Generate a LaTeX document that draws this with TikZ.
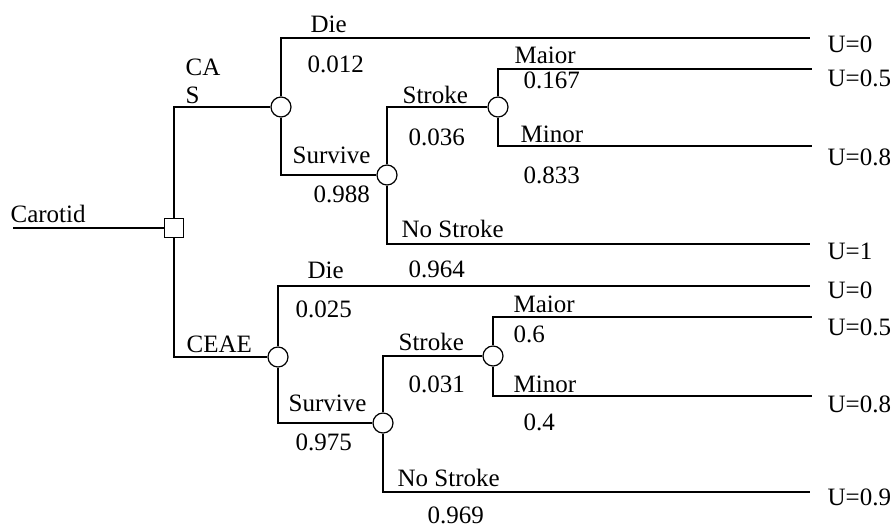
\documentclass[tikz,border=0pt]{standalone}
\usepackage{fontspec}
\setmainfont{Liberation Serif}
\usepackage{tikz}

\begin{document}
\begin{tikzpicture}[x=0.5pt, y=-0.5pt, line width=0.6pt,
    chance/.style={circle, draw, fill=white, minimum size=10pt, inner sep=0pt},
    decision/.style={rectangle, draw, fill=white, minimum size=9.5pt, inner sep=0pt},
    lbl/.style={anchor=base west, inner sep=0pt, font=\fontsize{12.5}{14}\selectfont}]

    \useasboundingbox (0,0) rectangle (893,526);

    % ── Decision and chance nodes ───────────────────────────────────────────
    \node[decision] (dec) at (174,228) {};
    \node[chance] (cas)    at (281,107) {};
    \node[chance] (casSv)  at (387,175) {};
    \node[chance] (casStk) at (498,107) {};
    \node[chance] (cea)    at (278,357) {};
    \node[chance] (ceaSv)  at (383,423) {};
    \node[chance] (ceaStk) at (493,356) {};

    % ── Free ends of the branches ───────────────────────────────────────────
    \coordinate (root) at (13,228);
    \coordinate (eCasDie)   at (810,38);
    \coordinate (eCasMaj)   at (812,69);
    \coordinate (eCasMin)   at (812,146);
    \coordinate (eCasNo)    at (810,244);
    \coordinate (eCeaDie)   at (810,286);
    \coordinate (eCeaMaj)   at (812,317);
    \coordinate (eCeaMin)   at (812,396);
    \coordinate (eCeaNo)    at (810,492);

    % ── Branches ────────────────────────────────────────────────────────────
    \draw (root) -- (dec.west);
    \draw (dec.north) |- (cas.west);
    \draw (dec.south) |- (cea.west);

    \draw (cas.north) |- (eCasDie);
    \draw (cas.south) |- (casSv.west);
    \draw (casSv.north) |- (casStk.west);
    \draw (casSv.south) |- (eCasNo);
    \draw (casStk.north) |- (eCasMaj);
    \draw (casStk.south) |- (eCasMin);

    \draw (cea.north) |- (eCeaDie);
    \draw (cea.south) |- (ceaSv.west);
    \draw (ceaSv.north) |- (ceaStk.west);
    \draw (ceaSv.south) |- (eCeaNo);
    \draw (ceaStk.north) |- (eCeaMaj);
    \draw (ceaStk.south) |- (eCeaMin);

    % ── Labels: CAS arm ─────────────────────────────────────────────────────
    \node[lbl] (tCarotid) at (10,222) {Carotid};
    \node[lbl] (tCa)      at (185,75) {CA};
    \node[lbl] (tS)       at (185,103) {S};
    \node[lbl] (tCasDie)  at (310,32) {Die};
    \node[lbl] (pCasDie)  at (307,72) {0.012};
    \node[lbl] (tCasSv)   at (292,163) {Survive};
    \node[lbl] (pCasSv)   at (313,202) {0.988};
    \node[lbl] (tCasStk)  at (402,103) {Stroke};
    \node[lbl] (pCasStk)  at (408,145) {0.036};
    \node[lbl] (tCasNo)   at (401,237) {No Stroke};
    \node[lbl] (pCasNo)   at (408,277) {0.964};
    \node[lbl] (tCasMaj)  at (514,63) {Maior};
    \node[lbl] (pCasMaj)  at (523,88) {0.167};
    \node[lbl] (tCasMin)  at (520,142) {Minor};
    \node[lbl] (pCasMin)  at (523,183) {0.833};
    \node[lbl] (uCasDie)  at (827,52) {U=0};
    \node[lbl] (uCasMaj)  at (827,86) {U=0.5};
    \node[lbl] (uCasMin)  at (827,165) {U=0.8};
    \node[lbl] (uCasNo)   at (827,259) {U=1};

    % ── Labels: CEAE arm ────────────────────────────────────────────────────
    \node[lbl] (tCea)     at (186,352) {CEAE};
    \node[lbl] (tCeaDie)  at (307,278) {Die};
    \node[lbl] (pCeaDie)  at (295,317) {0.025};
    \node[lbl] (tCeaSv)   at (288,411) {Survive};
    \node[lbl] (pCeaSv)   at (295,450) {0.975};
    \node[lbl] (tCeaStk)  at (398,350) {Stroke};
    \node[lbl] (pCeaStk)  at (408,392) {0.031};
    \node[lbl] (tCeaNo)   at (397,486) {No Stroke};
    \node[lbl] (pCeaNo)   at (427,523) {0.969};
    \node[lbl] (tCeaMaj)  at (513,312) {Maior};
    \node[lbl] (pCeaMaj)  at (513,342) {0.6};
    \node[lbl] (tCeaMin)  at (513,392) {Minor};
    \node[lbl] (pCeaMin)  at (523,430) {0.4};
    \node[lbl] (uCeaDie)  at (827,298) {U=0};
    \node[lbl] (uCeaMaj)  at (827,335) {U=0.5};
    \node[lbl] (uCeaMin)  at (827,412) {U=0.8};
    \node[lbl] (uCeaNo)   at (827,505) {U=0.9};

  \end{tikzpicture}
\end{document}
